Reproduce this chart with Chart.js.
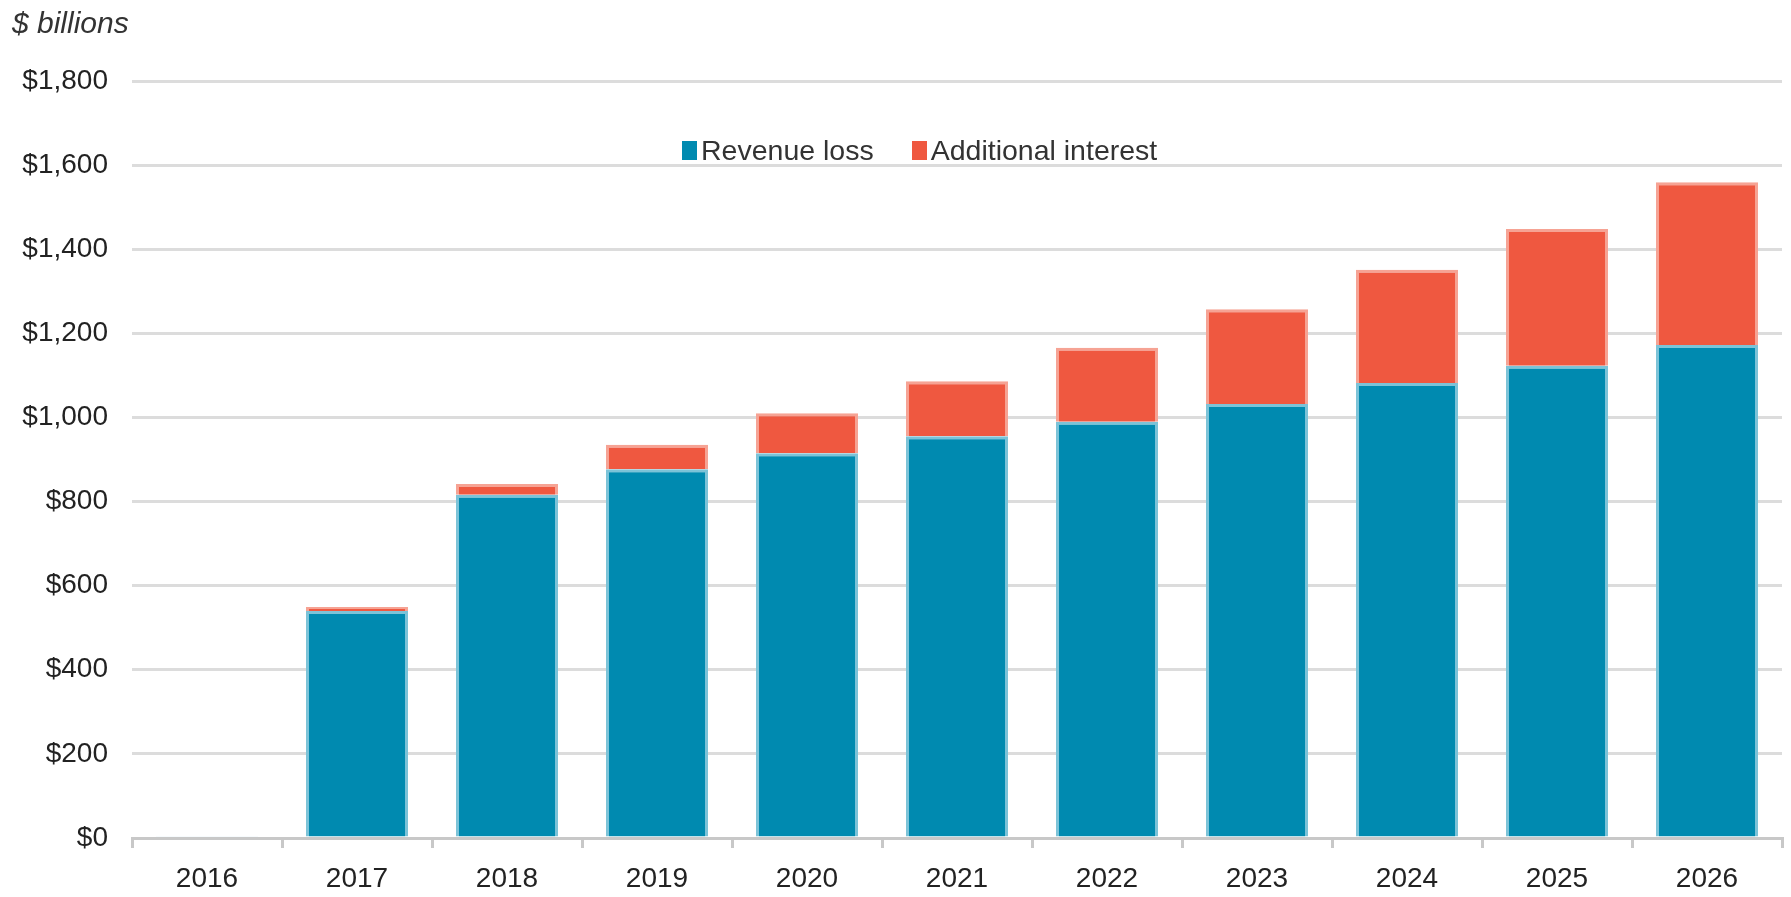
<!DOCTYPE html>
<html>
<head>
<meta charset="utf-8">
<script src="https://cdn.jsdelivr.net/npm/chart.js@4"></script>
<style>
  html, body { margin: 0; padding: 0; background: #fff; }
  #wrap { position: relative; width: 1791px; height: 897px; font-family: "Liberation Sans", Arial, sans-serif; }
  #unit { position: absolute; left: 12px; top: 3px; font-size: 30px; font-style: italic; color: #333; line-height: 40px; }
  #legend { position: absolute; left: 682px; top: 134px; height: 32px; display: flex; align-items: center; font-size: 28.5px; color: #333; }
  #legend .item { display: flex; align-items: center; margin-right: 38px; }
  #legend .box { width: 15px; height: 19px; margin-right: 4px; }
</style>
</head>
<body>
<div id="wrap">
  <canvas id="chart" width="1791" height="897"></canvas>
  <div id="unit">$ billions</div>
  <div id="legend"></div>
</div>
<script>
  // data
  const years = ["2016", "2017", "2018", "2019", "2020", "2021", "2022", "2023", "2024", "2025", "2026"];
  const revenueLoss = [3, 540, 816, 877, 915, 955, 990, 1032, 1082, 1123, 1172];
  const additionalInterest = [0, 9, 26, 58, 95, 131, 176, 225, 269, 325, 387];

  const BLUE = "#008ab0";
  const RED = "#ef5840";

  const datasets = [
    {
      label: "Revenue loss",
      data: revenueLoss,
      backgroundColor: BLUE,
      borderColor: "#7cc3d8",
      borderWidth: 3,
    },
    {
      label: "Additional interest",
      data: additionalInterest,
      backgroundColor: RED,
      borderColor: "#f6a394",
      borderWidth: 3,
    },
  ];

  // =============================
  // LEGEND (html overlay)
  // =============================
  const legend = document.getElementById("legend");
  datasets.forEach((ds) => {
    const item = document.createElement("div");
    item.className = "item";
    item.innerHTML = '<span class="box" style="background:' + ds.backgroundColor + '"></span>' + ds.label;
    legend.appendChild(item);
  });

  const ctx = document.getElementById("chart");

  new Chart(ctx, {
    type: "bar",
    data: {
      labels: years,
      datasets: datasets,
    },
    options: {
      responsive: false,
      animation: false,
      barPercentage: 0.68,
      categoryPercentage: 1,
      layout: {
        padding: { top: 81, right: 9, left: 0, bottom: 0 },
      },
      plugins: {
        legend: { display: false },
        tooltip: { enabled: false },
      },
      scales: {
        x: {
          stacked: true,
          afterFit: (s) => { s.height = 59; },
          border: { display: true, color: "#c8c8c8", width: 3 },
          grid: {
            offset: true,
            drawOnChartArea: false,
            drawTicks: true,
            tickLength: 10,
            color: "#c8c8c8",
            lineWidth: 3,
          },
          ticks: {
            padding: 14,
            color: "#222",
            font: { family: "'Liberation Sans', Arial", size: 28 },
          },
        },
        y: {
          stacked: true,
          min: 0,
          max: 1800,
          afterFit: (s) => { s.width = 132; },
          border: { display: false },
          grid: {
            color: "#dcdcdc",
            lineWidth: 3,
            drawTicks: false,
          },
          ticks: {
            stepSize: 200,
            padding: 24,
            color: "#222",
            font: { family: "'Liberation Sans', Arial", size: 28 },
            callback: (v) => "$" + v.toLocaleString("en-US"),
          },
        },
      },
    },
  });
</script>
</body>
</html>
